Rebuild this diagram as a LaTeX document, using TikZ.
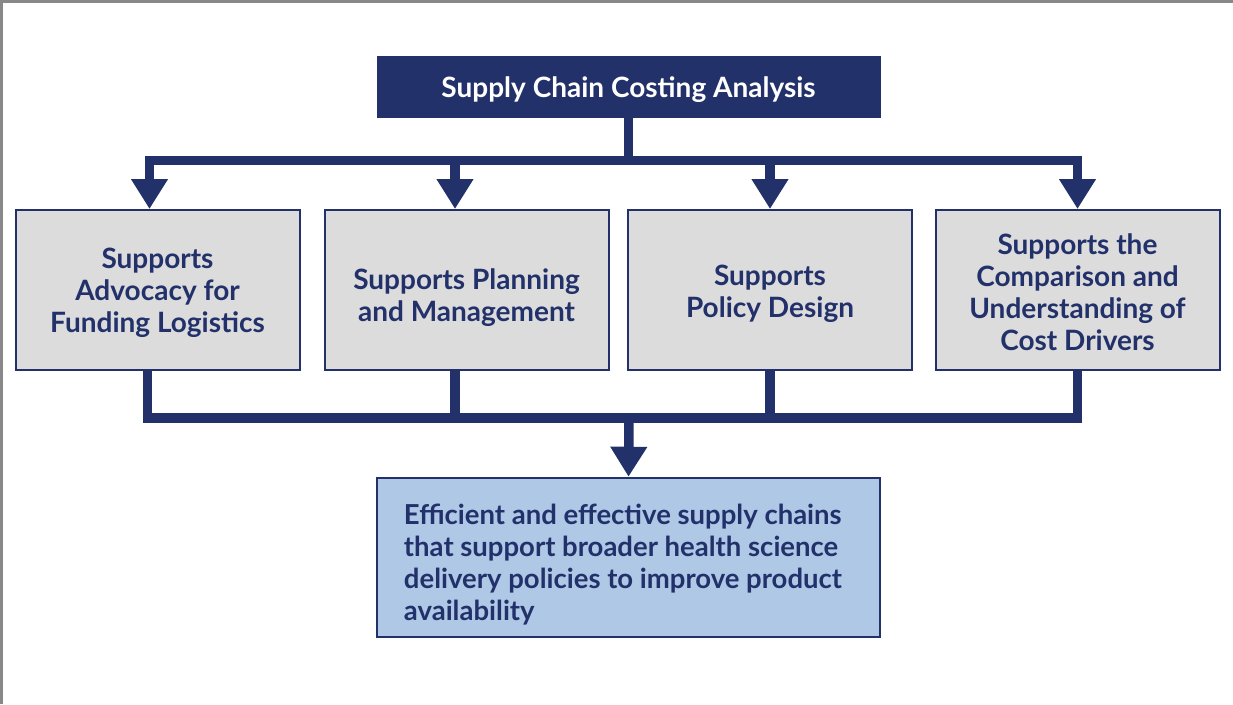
\documentclass[tikz,border=0pt]{standalone}
\usepackage{fontspec}
\setmainfont{Lato}
\usetikzlibrary{arrows.meta}
\definecolor{navy}{HTML}{22316A}
\definecolor{boxgray}{HTML}{DCDCDC}
\definecolor{lightblue}{HTML}{AEC8E6}
\definecolor{framegray}{HTML}{888888}
\tikzset{
  topbox/.style={fill=navy, draw=navy, text=white, minimum width=503pt, minimum height=61pt,
    inner sep=0pt, text height=24pt, text depth=3pt, font=\fontsize{28}{30}\selectfont\bfseries},
  midbox/.style={fill=boxgray, draw=navy, line width=2pt, minimum width=284pt, minimum height=160pt,
    inner sep=0pt},
  midtext/.style={align=center, text=navy, inner sep=0pt, font=\fontsize{28}{32}\selectfont\bfseries},
  botbox/.style={fill=lightblue, draw=navy, line width=2.5pt, minimum width=503pt, minimum height=159pt,
    inner sep=0pt},
  bottext/.style={anchor=west, align=left, text=navy, inner sep=0pt, font=\fontsize{27.5}{32}\selectfont\bfseries},
  conn/.style={draw=navy, line width=9.5pt, line join=miter},
  arr/.style={conn, -{Triangle[width=35pt,length=30pt]}},
}
\begin{document}
\begin{tikzpicture}[x=1pt,y=-1pt]
\useasboundingbox (0,0) rectangle (1233,704);
\fill[white] (0,0) rectangle (1233,704);
\draw[framegray, line width=3pt] (1.5,704) -- (1.5,1.5) -- (1233,1.5);

\node[topbox] (top) at (628.5,86.5) {Supply Chain Costing Analysis};
\node[midbox] (b1) at (157.5,290) {};
\node[midbox] (b2) at (466.5,290) {};
\node[midbox] (b3) at (770,290) {};
\node[midbox] (b4) at (1077.5,290) {};
\node[midtext] (t1) at ([yshift=-3pt]b1.center) {Supports\\Advocacy for\\Funding Logistics};
\node[midtext] (t2) at ([yshift=-8pt]b2.center) {Supports Planning\\and Management};
\node[midtext] (t3) at ([yshift=-4pt]b3.center) {Supports\\Policy Design};
\node[midtext] (t4) at ([yshift=-2pt]b4.center) {Supports the\\Comparison and\\Understanding of\\Cost Drivers};
\node[botbox] (bot) at (628.5,557.5) {};
\node[bottext] (btext) at ([xshift=28pt,yshift=-7.5pt]bot.west) {Efficient and effective supply chains\\that support broader health science\\delivery policies to improve product\\availability};

\draw[conn] (top.south) -- ++(0,43.5) coordinate (hub);
\draw[arr] (hub) -| ([xshift=-8pt]b1.north);
\draw[arr] (hub) -| ([xshift=-11.5pt]b2.north);
\draw[arr] (hub) -| (b3.north);
\draw[arr] (hub) -| (b4.north);

\coordinate (hub2) at (629,418);
\draw[conn] ([xshift=-10pt]b1.south) |- (hub2);
\draw[conn] ([xshift=-11.5pt]b2.south) |- (hub2);
\draw[conn] (b3.south) |- (hub2);
\draw[conn] (b4.south) |- (hub2);
\draw[arr] (hub2) -- (bot.north);
\end{tikzpicture}
\end{document}
